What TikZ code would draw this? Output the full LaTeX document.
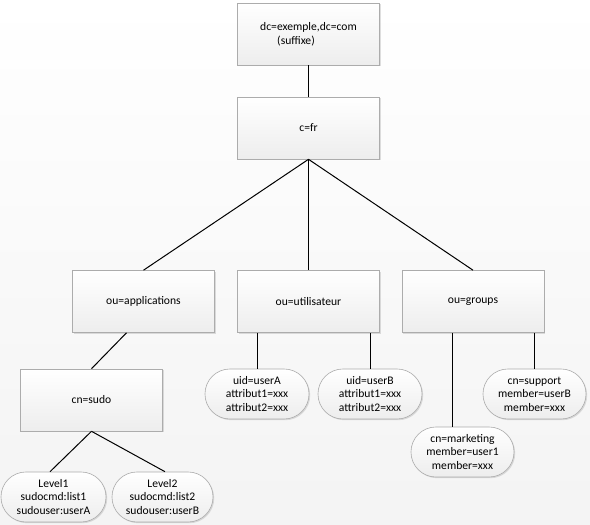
\documentclass[tikz,border=0pt]{standalone}
\usepackage{fontspec}
\setmainfont{Carlito}
\usetikzlibrary{calc,shadows}
\begin{document}
\begin{tikzpicture}[x=1pt,y=1pt,
  every node/.style={font=\fontsize{11.6}{13.6}\selectfont},
  boxnode/.style={draw=gray!65, line width=0.6pt, top color=white, bottom color=gray!14,
    minimum width=142pt, minimum height=62pt, inner sep=0pt,
    drop shadow={shadow xshift=1.2pt, shadow yshift=-1.2pt, opacity=0.25}},
  entrynode/.style={draw=gray!65, line width=0.6pt, top color=white, bottom color=gray!14,
    minimum width=104pt, minimum height=50pt, inner sep=0pt, rounded corners=24.9pt, align=center,
    drop shadow={shadow xshift=1.2pt, shadow yshift=-1.2pt, opacity=0.25}},
  link/.style={line width=1pt, black}]
\useasboundingbox (0,0) rectangle (590,-525);
\fill[top color=white, bottom color=gray!9] (0,0) rectangle (590,-525);

\node[boxnode, align=left] (top) at (308.5,-34) {dc=exemple,dc=com\\\hspace*{17pt}(suffixe)};
\node[boxnode] (cfr) at (308.5,-128) {c=fr};
\node[boxnode] (app) at (143.5,-301.5) {ou=applications};
\node[boxnode] (util) at (308.5,-301.5) {ou=utilisateur};
\node[boxnode] (grp) at (473,-301.5) {ou=groups};
\node[boxnode] (sudo) at (91.5,-400) {cn=sudo};

\node[entrynode] (ua) at (257,-394) {uid=userA\\attribut1=xxx\\attribut2=xxx};
\node[entrynode] (ub) at (370,-394) {uid=userB\\attribut1=xxx\\attribut2=xxx};
\node[entrynode, minimum width=103pt] (sup) at (534.5,-394) {cn=support\\member=userB\\member=xxx};
\node[entrynode, minimum width=103pt] (mkt) at (462.5,-452) {cn=marketing\\member=user1\\member=xxx};
\node[entrynode, minimum width=105pt] (l1) at (53.5,-497) {Level1\\sudocmd:list1\\sudouser:userA};
\node[entrynode, minimum width=101pt] (l2) at (162.5,-497) {Level2\\sudocmd:list2\\sudouser:userB};

\draw[link] (top.south) -- (cfr.north);
\draw[link] (cfr.south) -- (app.north);
\draw[link] (cfr.south) -- (util.north);
\draw[link] (cfr.south) -- (grp.north);
\draw[link] ($(app.south)+(-17,0)$) -- (sudo.north);
\draw[link] (sudo.south) -- ($(l1.north)+(-3.5,0)$);
\draw[link] (sudo.south) -- ($(l2.north)+(2.5,0)$);
\draw[link] ($(util.south)+(-51.5,0)$) -- (ua.north);
\draw[link] ($(util.south)+(61.5,0)$) -- (ub.north);
\draw[link] ($(grp.south)+(-21,0)$) -- ($(mkt.north)+(-10.5,0)$);
\draw[link] ($(grp.south)+(61.5,0)$) -- (sup.north);
\end{tikzpicture}
\end{document}
